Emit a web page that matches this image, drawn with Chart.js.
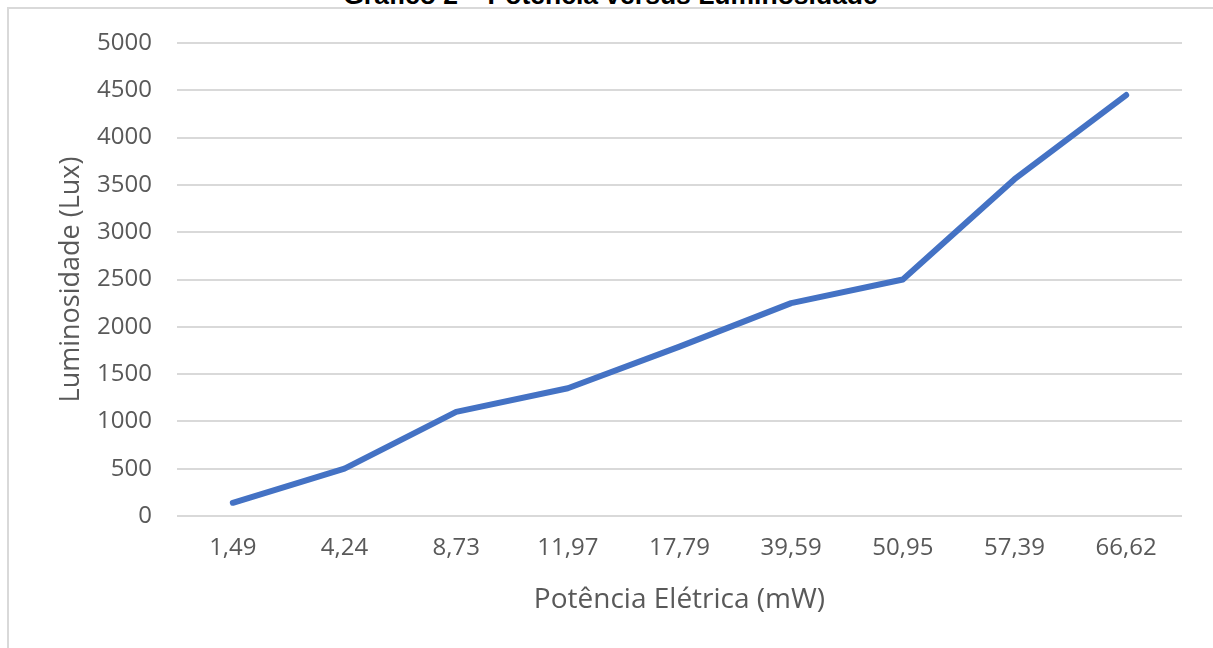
<!DOCTYPE html>
<html>
<head>
<meta charset="utf-8">
<script src="https://cdn.jsdelivr.net/npm/chart.js@4"></script>
<style>
  html, body { margin: 0; padding: 0; background: #fff; overflow: hidden; }
  #moldura {
    position: absolute; left: 7px; top: 7px; width: 1300px; height: 700px;
    border: 2px solid #d9d9d9; box-sizing: border-box;
  }
  #titulo {
    position: absolute; left: 0; width: 1221px; top: -18px;
    text-align: center; font: bold 26.5px "Liberation Sans", Arial, sans-serif;
    line-height: 26.5px; color: #000;
  }
  #grafico { position: absolute; left: 0; top: 0; }
</style>
</head>
<body>
<div id="moldura"></div>
<div id="titulo">Gráfico 2 – Potência versus Luminosidade</div>
<canvas id="grafico" width="1213" height="648"></canvas>
<script>
// Dados do gráfico
const potencias = ["1,49", "4,24", "8,73", "11,97", "17,79", "39,59", "50,95", "57,39", "66,62"];
const luminosidade = [140, 500, 1100, 1350, 1790, 2250, 2500, 3560, 4450];
const ticksY = [0, 500, 1000, 1500, 2000, 2500, 3000, 3500, 4000, 4500, 5000];

const corTexto = "#595959";
const fonte = "'Open Sans', sans-serif";

const ctx = document.getElementById("grafico").getContext("2d");

new Chart(ctx, {
    type: "line",
    data: {
        labels: potencias,
        datasets: [{
            label: "Luminosidade",
            data: luminosidade,
            borderColor: "#4472C4",
            borderWidth: 6,
            pointRadius: 0,
            tension: 0,
            borderCapStyle: "round",
            borderJoinStyle: "round",
            fill: false
        }]
    },
    options: {
        responsive: false,
        animation: false,
        layout: { padding: { top: 43, right: 31, bottom: 0, left: 0 } },
        plugins: {
            legend: { display: false },
            tooltip: { enabled: false }
        },
        scales: {
            x: {
                offset: true,
                grid: { display: false },
                border: { display: false },
                ticks: {
                    color: corTexto,
                    font: { family: fonte, size: 24 },
                    padding: 10,
                    maxRotation: 0
                },
                title: {
                    display: true,
                    text: "Potência Elétrica (mW)",
                    color: corTexto,
                    font: { family: fonte, size: 28 },
                    padding: { top: 14, bottom: 31 }
                },
                afterFit: s => { s.height = 132; }
            },
            y: {
                min: 0,
                max: 5000,
                afterBuildTicks: s => { s.ticks = ticksY.map(v => ({ value: v })); },
                grid: { color: "#d9d9d9", lineWidth: 2, drawTicks: false },
                border: { display: false },
                ticks: {
                    color: corTexto,
                    font: { family: fonte, size: 24 },
                    padding: 25,
                    callback: v => String(v)
                },
                title: {
                    display: true,
                    text: "Luminosidade (Lux)",
                    color: corTexto,
                    font: { family: fonte, size: 27 },
                    padding: { top: 55, bottom: 0 }
                },
                afterFit: s => { s.width = 177; }
            }
        }
    }
});
</script>
</body>
</html>
